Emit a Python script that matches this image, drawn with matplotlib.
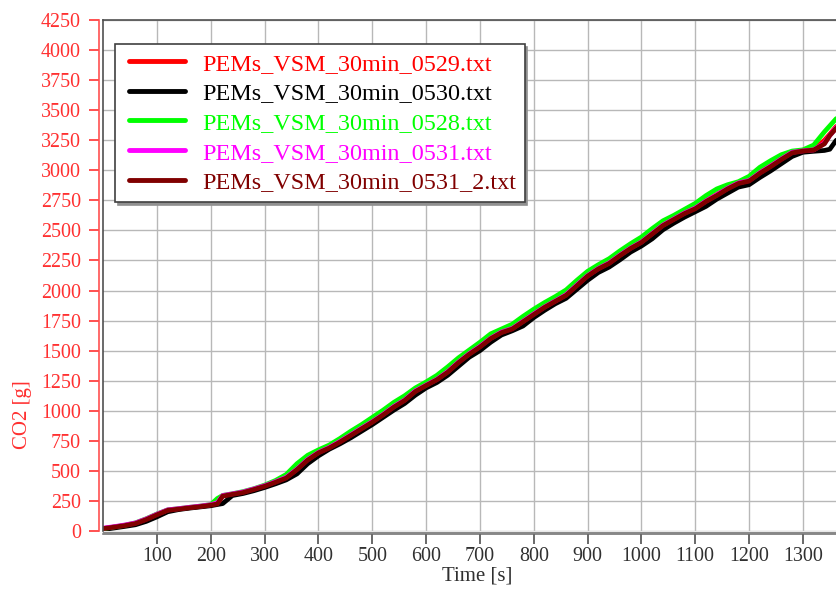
import matplotlib
matplotlib.use("Agg")
import matplotlib.pyplot as plt
from matplotlib.lines import Line2D
from matplotlib.legend_handler import HandlerLine2D
from matplotlib.transforms import offset_copy

plt.rcParams['font.family'] = ['Liberation Serif', 'DejaVu Serif']

# elapsed time [s]
time_s = [0, 20, 40, 60, 80, 100, 120, 140, 160, 180, 200,
          212, 222,
          240, 260, 280, 300, 320, 340, 360, 380, 400,
          420, 440, 460, 480, 500, 520, 540, 560, 580, 600,
          620, 640, 660, 680, 700, 720, 740, 760, 780, 800,
          820, 840, 860, 880, 900, 920, 940, 960, 980, 1000,
          1020, 1040, 1060, 1080, 1100, 1120, 1140, 1160, 1180, 1200,
          1220, 1240, 1260, 1280, 1300, 1320, 1340,
          1350, 1362]

# cumulative CO2 [g] per measurement file
co2_0529 = [20, 33, 46, 64, 98, 138, 174, 183, 194, 204, 216,
            232, 292,
            306, 322, 348, 375, 408, 446, 518, 598, 655,
            694, 746, 800, 856, 912, 972, 1036, 1092, 1166, 1215,
            1264, 1330, 1408, 1476, 1538, 1606, 1655, 1688, 1748, 1808,
            1866, 1918, 1970, 2050, 2128, 2186, 2234, 2298, 2356, 2410,
            2478, 2546, 2596, 2646, 2690, 2748, 2800, 2852, 2895, 2918,
            2985, 3040, 3100, 3150, 3162, 3175, 3250,
            3300, 3365]

co2_0530 = [12, 25, 38, 52, 80, 118, 160, 178, 190, 200, 210,
            220, 228,
            295, 312, 335, 362, 392, 425, 475, 560, 625,
            680, 725, 775, 830, 885, 945, 1005, 1060, 1130, 1190,
            1235, 1295, 1370, 1445, 1500, 1570, 1630, 1665, 1705, 1775,
            1835, 1890, 1935, 2010, 2085, 2150, 2195, 2255, 2320, 2370,
            2430, 2505, 2560, 2610, 2655, 2700, 2760, 2810, 2860, 2880,
            2940, 2995, 3055, 3115, 3150, 3158, 3165,
            3175, 3250]

co2_0528 = [20, 34, 48, 68, 102, 142, 176, 186, 197, 207, 220,
            270, 296,
            310, 328, 352, 382, 420, 470, 560, 630, 675,
            715, 770, 830, 885, 945, 1005, 1070, 1125, 1190, 1240,
            1295, 1365, 1440, 1505, 1570, 1640, 1680, 1720, 1785, 1845,
            1900, 1950, 2005, 2085, 2160, 2215, 2265, 2330, 2390, 2445,
            2515, 2580, 2625, 2675, 2725, 2790, 2845, 2880, 2905, 2950,
            3025, 3080, 3130, 3160, 3170, 3210, 3320,
            3370, 3430]

co2_0531 = [24, 36, 50, 67, 100, 140, 176, 186, 197, 207, 219,
            235, 295,
            309, 325, 350, 377, 410, 446, 515, 596, 654,
            695, 746, 800, 856, 910, 970, 1036, 1090, 1166, 1214,
            1262, 1326, 1405, 1475, 1536, 1604, 1655, 1685, 1745, 1806,
            1864, 1914, 1966, 2046, 2124, 2184, 2230, 2295, 2354, 2404,
            2475, 2545, 2595, 2645, 2686, 2745, 2796, 2850, 2895, 2915,
            2980, 3036, 3095, 3150, 3162, 3170, 3225,
            3290, 3355]

co2_0531_2 = [20, 32, 45, 62, 95, 135, 172, 182, 193, 203, 215,
              225, 290,
              305, 320, 345, 372, 405, 440, 510, 590, 650,
              690, 740, 795, 850, 905, 965, 1030, 1085, 1160, 1210,
              1258, 1320, 1400, 1470, 1530, 1600, 1650, 1680, 1740, 1800,
              1860, 1910, 1960, 2040, 2120, 2180, 2225, 2290, 2350, 2400,
              2470, 2540, 2590, 2640, 2680, 2740, 2790, 2845, 2890, 2910,
              2975, 3030, 3090, 3145, 3160, 3168, 3220,
              3290, 3350]

labels = ["PEMs_VSM_30min_0529.txt", "PEMs_VSM_30min_0530.txt",
          "PEMs_VSM_30min_0528.txt", "PEMs_VSM_30min_0531.txt",
          "PEMs_VSM_30min_0531_2.txt"]
series = [co2_0529, co2_0530, co2_0528, co2_0531, co2_0531_2]
colors = ["#ff0000", "#000000", "#00ff00", "#ff00ff", "#800000"]

x_ticks = list(range(100, 1301, 100))
y_ticks = list(range(0, 4251, 250))

W, H = 836, 589
fig = plt.figure(figsize=(W / 100, H / 100), dpi=100)
left_px, top_px, bottom_px = 103.2, 20, 531
ax = fig.add_axes([left_px / W, (H - bottom_px) / H,
                   (W - left_px) / W, (bottom_px - top_px) / H])

for vals, lab, col in zip(series, labels, colors):
    ax.plot(time_s, vals, color=col, lw=3.4, label=lab,
            solid_joinstyle='round', solid_capstyle='round')

ax.set_xlim(0, 1361.5)
ax.set_ylim(0, 4250)
ax.set_xticks(x_ticks)
ax.set_yticks(y_ticks)
ax.grid(True, color='#b8b8b8', lw=1.0)
ax.set_axisbelow(True)

# frame: red offset y-axis, grey plot border, doubled x-axis line
ax.spines['right'].set_visible(False)
ax.spines['top'].set_color('#505050')
ax.spines['top'].set_linewidth(1.2)
ax.spines['left'].set_position(('outward', 2.9))
ax.spines['left'].set_color('#ff5050')
ax.spines['left'].set_linewidth(1.2)
ax.spines['bottom'].set_position(('outward', 2.2))
ax.spines['bottom'].set_color('#6a6a6a')
ax.spines['bottom'].set_linewidth(1.1)
ax.add_line(Line2D([0, 0], [0, 1], transform=ax.transAxes, color='#505050',
                   lw=1.2, clip_on=False))
ax.add_line(Line2D([0, 1], [0, 0],
                   transform=offset_copy(ax.transAxes, fig=fig, y=-0.6, units='dots'),
                   color='#8a8a8a', lw=1.0, clip_on=False))

ax.tick_params(axis='y', direction='out', length=7.2, width=1.1,
               color='#ff2020', labelcolor='#ff3030', labelsize=14.4, pad=6)
ax.tick_params(axis='x', direction='out', length=7.5, width=1.1,
               color='#404040', labelcolor='#303030', labelsize=14.4, pad=2)

ax.set_ylabel('CO2 [g]', color='#ff3030', fontsize=15)
ax.yaxis.set_label_coords(-0.097, 0.227)
ax.set_xlabel('Time [s]', color='#303030', fontsize=15)
ax.xaxis.set_label_coords(0.51, -0.070)

leg = ax.legend(loc='upper left', bbox_to_anchor=(0.016, 0.953),
                borderaxespad=0, fontsize=17.4, labelcolor='linecolor',
                frameon=True, fancybox=False, edgecolor='#404040',
                framealpha=1, handlelength=2.52, handletextpad=0.72,
                labelspacing=0.32, borderpad=0.36,
                handler_map={Line2D: HandlerLine2D(xpad=0.23)},
                shadow={'color': '#909090', 'alpha': 1})
leg.get_frame().set_linewidth(1.2)
for h in leg.get_lines():
    h.set_linewidth(3.5)

fig.savefig('out.png', dpi=100)
